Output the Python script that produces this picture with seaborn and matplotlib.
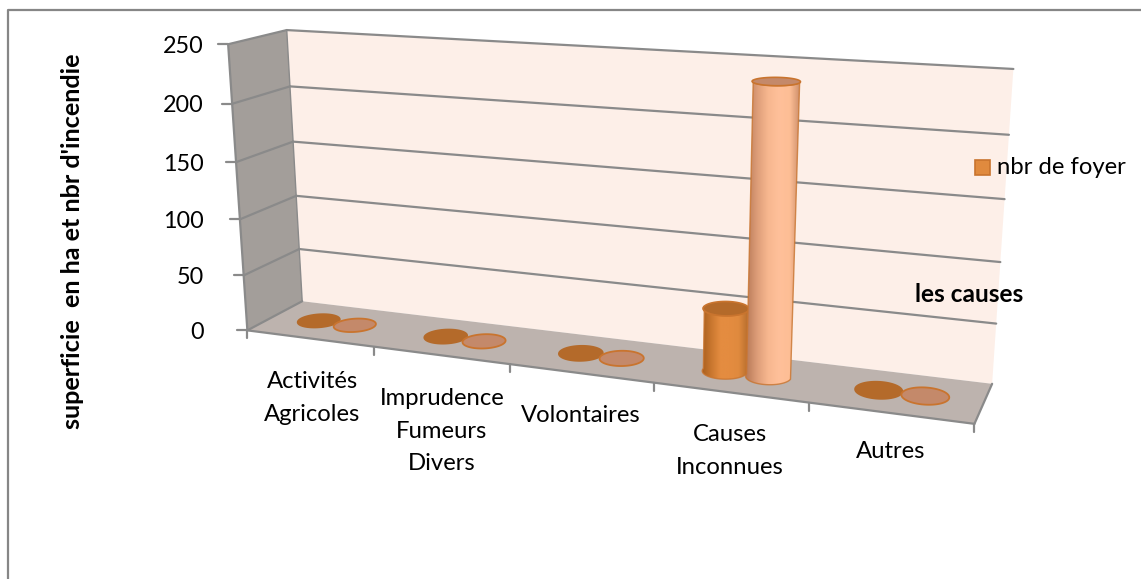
import numpy as np
import pandas as pd
import matplotlib
matplotlib.use('Agg')
import matplotlib.pyplot as plt
from matplotlib.patches import Polygon, Rectangle
import seaborn as sns

# Values
causes = ['Activités\nAgricoles', 'Imprudence\nFumeurs\nDivers', 'Volontaires',
          'Causes\nInconnues', 'Autres']
nbr_foyer = [0, 0, 0, 53, 0]
superficie = [0, 0, 0, 238, 0]
y_ticks = [0, 50, 100, 150, 200, 250]

# Box corners/grid points -> pixel position, used to fit the 3D view
box_pts = [(0, 0, 0), (5, 0, 0), (0, 1, 0), (5, 1, 0), (0, 0, 250), (0, 1, 250), (5, 1, 250),
           (0, 1, 100), (5, 1, 100), (1, 0, 0), (4, 0, 0), (0, 0, 100)]
px_pts = [(248, 330), (975, 423), (302, 301), (992, 383), (228, 44), (287, 30), (1013, 69),
          (296, 196), (1001, 263), (374, 348), (808, 403), (240, 219)]

# Pixel position of the category labels
label_pos = [(312, 398), (442, 431), (581, 416), (730, 451), (891, 452)]

GREY = '#8a8a8a'
EDGE = '#c9742e'


def fit_camera(pts, px):
    # plain DLT fit of a 3x4 projection matrix
    rows = []
    for (x, y, z), (u, v) in zip(pts, px):
        p = [x, y, z / 50.0, 1]
        rows.append(p + [0, 0, 0, 0] + [-u * c for c in p])
        rows.append([0, 0, 0, 0] + p + [-v * c for c in p])
    _, _, vt = np.linalg.svd(np.array(rows, dtype=float))
    return vt[-1].reshape(3, 4)


cam = fit_camera(box_pts, px_pts)


def project(x, y, z):
    x, y, z = np.broadcast_arrays(x, y, z)
    h = cam @ np.array([x, y, z / 50.0, np.ones_like(x, dtype=float)])
    return np.array([h[0] / h[2], h[1] / h[2]])


def seg(ax, a, b, lw=1.6, color=GREY, zorder=3):
    pa, pb = project(*a), project(*b)
    ax.plot([pa[0], pb[0]], [pa[1], pb[1]], color=color, lw=lw, zorder=zorder,
            solid_capstyle='round')


def face(ax, corners, color, zorder=1):
    xy = np.array([project(*c) for c in corners])
    ax.add_patch(Polygon(xy, closed=True, fc=color, ec='none', zorder=zorder))


def draw_cylinder(ax, cx, width, height, stops, top_col, disc_edge, zorder):
    r = width / 2.0
    t = np.linspace(0, 2 * np.pi, 90)
    depth = 0.5
    rd = 0.21
    base = project(cx + r * np.cos(t), depth + rd * np.sin(t), 0)
    if height < 3:
        ax.add_patch(Polygon(base.T, closed=True, fc=top_col, ec=disc_edge, lw=1.3, zorder=zorder))
        return
    cap = project(cx + r * np.cos(t), depth + rd * np.sin(t), height)
    # near half of each rim: sin(t) < 0 is toward the viewer
    front = np.linspace(np.pi, 2 * np.pi, 45)
    low = project(cx + r * np.cos(front), depth + rd * np.sin(front), 0)
    up = project(cx + r * np.cos(front), depth + rd * np.sin(front), height)
    body = np.vstack([low.T, up.T[::-1]])
    poly = Polygon(body, closed=True, fc='none', ec=EDGE, lw=1.0, alpha=0.8, zorder=zorder + 0.2)
    ax.add_patch(poly)
    x0, x1 = body[:, 0].min(), body[:, 0].max()
    y0, y1 = min(body[:, 1].min(), cap[1].min()), body[:, 1].max()
    cols = matplotlib.colors.LinearSegmentedColormap.from_list('c', stops)
    im = ax.imshow(np.linspace(0, 1, 128)[None, :], extent=(x0, x1, y1, y0), cmap=cols,
                   aspect='auto', zorder=zorder + 0.1, interpolation='bilinear')
    im.set_clip_path(poly)
    ax.add_patch(Polygon(cap.T, closed=True, fc=top_col, ec=EDGE, lw=1.2, zorder=zorder + 0.3))


sns.set_theme(style='white')
plt.rcParams['font.family'] = ['Lato', 'DejaVu Sans']

df = pd.DataFrame({
    'cause': causes * 2,
    'serie': ['nbr de foyer'] * 5 + ['superficie'] * 5,
    'valeur': nbr_foyer + superficie,
})

fig = plt.figure(figsize=(11.41, 5.79), dpi=100, facecolor='white')

# seaborn works out the bar layout on a hidden axes; the bars are redrawn in 3D below
ax_bars = fig.add_axes([0, 0, 1, 1])
sns.barplot(data=df, x='cause', y='valeur', hue='serie', width=0.58, gap=0,
            dodge=True, legend=False, ax=ax_bars)
bars = [(p.get_x(), p.get_width(), p.get_height()) for p in ax_bars.patches if p.get_width() > 0]
ax_bars.set_visible(False)

ax = fig.add_axes([0, 0, 1, 1])
ax.set_xlim(0, 1141)
ax.set_ylim(579, 0)
ax.axis('off')

# outer chart border: only the left and top sides are in the crop
ax.plot([8, 8, 1141], [579, 10, 10], color='#868686', lw=1.6, zorder=1)

# walls and floor
face(ax, [(0, 1, 0), (5, 1, 0), (5, 1, 250), (0, 1, 250)], '#fdefe8')
face(ax, [(0, 0, 0), (0, 1, 0), (0, 1, 250), (0, 0, 250)], '#a39e9a')
face(ax, [(0, 0, 0), (5, 0, 0), (5, 1, 0), (0, 1, 0)], '#bdb3ae')

for v in y_ticks:
    if v > 0:
        seg(ax, (0, 1, v), (5, 1, v))
    seg(ax, (0, 0, v), (0, 1, v))
    px, py = project(0, 0, v)
    ax.plot([px - 10, px], [py, py], color=GREY, lw=1.6, zorder=3)
    ax.text(204, py + 2, str(v), ha='right', va='center', fontsize=16.8, color='black')

seg(ax, (0, 0, 0), (0, 0, 250))
seg(ax, (0, 1, 0), (0, 1, 250), lw=1.0)
seg(ax, (0, 0, 0), (5, 0, 0))
seg(ax, (5, 0, 0), (5, 1, 0))

for i in range(6):
    px, py = project(i, 0, 0)
    ax.plot([px, px], [py, py + 8], color=GREY, lw=1.6, zorder=3)

# the bars, taken from the seaborn patches
dark = ['#a9601f', '#c9772f', '#e48c40', '#e48c40', '#e08a3e', '#b86f2e']
light = ['#b87a58', '#dd9d78', '#f7b78f', '#ffc09a', '#fdbe95', '#c98b68']
n = len(causes)
for k, (x, w, h) in enumerate(bars):
    first = k < n
    draw_cylinder(ax, x + w / 2 + 0.5, w, h, dark if first else light,
                  '#b46a2a' if first else '#c4896a', '#b46a2a' if first else EDGE,
                  zorder=5 + 0.01 * k + (1 if not first else 0))

for name, (lx, ly) in zip(causes, label_pos):
    ax.text(lx, ly, name, ha='center', va='center', fontsize=17.2, linespacing=1.7, color='black')

ax.text(73, 241, "superficie  en ha et nbr d'incendie", rotation=90, ha='center', va='center',
        fontsize=18.2, fontweight='bold', color='black')
ax.text(969, 295, 'les causes', ha='center', va='center', fontsize=17.6, fontweight='bold',
        color='black', zorder=8)

# legend
ax.add_patch(Rectangle((974.5, 159.5), 15, 15, fc='#e08a3e', ec=EDGE, lw=1.2, zorder=8))
ax.text(997, 168, 'nbr de foyer', ha='left', va='center', fontsize=17.2, color='black', zorder=8)

ax.set_xlim(0, 1141)
ax.set_ylim(579, 0)

fig.savefig('out.png', dpi=100)
